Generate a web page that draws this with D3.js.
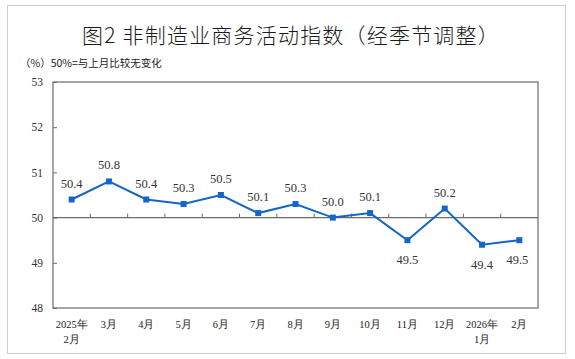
<!DOCTYPE html>
<html><head><meta charset="utf-8">
<script src="https://cdn.jsdelivr.net/npm/d3@7"></script>
<style>body{margin:0;background:#fff}svg{display:block}</style>
</head><body>
<svg id="c" width="575" height="359"></svg>
<script>
const months = ["2025年|2月","3月","4月","5月","6月","7月","8月","9月","10月","11月","12月","2026年|1月","2月"];
const values = [50.4,50.8,50.4,50.3,50.5,50.1,50.3,50.0,50.1,49.5,50.2,49.4,49.5];
const labelBelow = [false,false,false,false,false,false,false,false,false,true,false,true,true];
const yTicks = [48,49,50,51,52,53];

const svg = d3.select("#c");
const serif = "'Liberation Serif','Times New Roman',serif";
const cjk = "'Noto Sans CJK SC','Noto Sans',sans-serif";
svg.append("rect").attr("x",7.5).attr("y",5.5).attr("width",558).attr("height",348)
  .attr("fill","#fff").attr("stroke","#cfcfcf").attr("stroke-width",1);

const L=53, R=538, T=82, B=308;
const x = d3.scaleBand().domain(d3.range(months.length)).range([L,R]);
const y = d3.scaleLinear().domain([48,53]).range([B,T]);

svg.append("text").attr("x",291).attr("y",43).attr("text-anchor","middle")
  .attr("font-family",cjk).attr("font-size",21).attr("font-weight",300).attr("letter-spacing",1.2).attr("fill","#1a1a1a")
  .text("图2  非制造业商务活动指数（经季节调整）");
svg.append("text").attr("x",20).attr("y",67)
  .attr("font-family",cjk).attr("font-size",10.5).attr("fill","#222")
  .text("（%）50%=与上月比较无变化");

// plot border
svg.append("rect").attr("x",L).attr("y",T).attr("width",R-L).attr("height",B-T)
  .attr("fill","none").attr("stroke","#6b6b6b").attr("stroke-width",1.2);

// y axis ticks (inward)
const ya = d3.axisLeft(y).tickValues(yTicks).tickSize(-4).tickPadding(10).tickFormat(d3.format("d"));
const yg = svg.append("g").attr("transform",`translate(${L},0)`).call(ya);
yg.select(".domain").remove();
yg.selectAll("line").attr("stroke","#6b6b6b");
yg.selectAll("text").attr("font-family",serif).attr("font-size",11.5).attr("fill","#333");

// 50 line with x ticks pointing up
svg.append("line").attr("x1",L).attr("x2",R).attr("y1",y(50)).attr("y2",y(50))
  .attr("stroke","#6b6b6b").attr("stroke-width",1.2);
d3.range(1,months.length).forEach(i=>{
  const xx = x(i);
  svg.append("line").attr("x1",xx).attr("x2",xx).attr("y1",y(50)).attr("y2",y(50)-4)
    .attr("stroke","#6b6b6b");
});

// x labels
const xl = svg.append("g");
months.forEach((m,i)=>{
  const parts = m.split("|");
  const cx = x(i)+x.bandwidth()/2;
  parts.forEach((p,j)=>{
    xl.append("text").attr("x",cx).attr("y",328+j*15).attr("text-anchor","middle")
      .attr("font-family",serif).attr("font-size",10.5).attr("fill","#222").text(p);
  });
});

// line
const line = d3.line().x((d,i)=>x(i)+x.bandwidth()/2).y(d=>y(d));
svg.append("path").datum(values).attr("d",line).attr("fill","none")
  .attr("stroke","#1466c6").attr("stroke-width",2);
svg.selectAll(".pt").data(values).enter().append("rect")
  .attr("x",(d,i)=>x(i)+x.bandwidth()/2-3).attr("y",d=>y(d)-3)
  .attr("width",6).attr("height",6).attr("fill","#1466c6");

svg.selectAll(".lb").data(values).enter().append("text")
  .attr("x",(d,i)=>x(i)+x.bandwidth()/2 + (i===12?-2:0))
  .attr("y",(d,i)=>labelBelow[i]? y(d)+24 : y(d)-12)
  .attr("text-anchor","middle").attr("font-family",serif).attr("font-size",12.5)
  .attr("fill","#333").text(d=>d.toFixed(1));
</script>
</body></html>
